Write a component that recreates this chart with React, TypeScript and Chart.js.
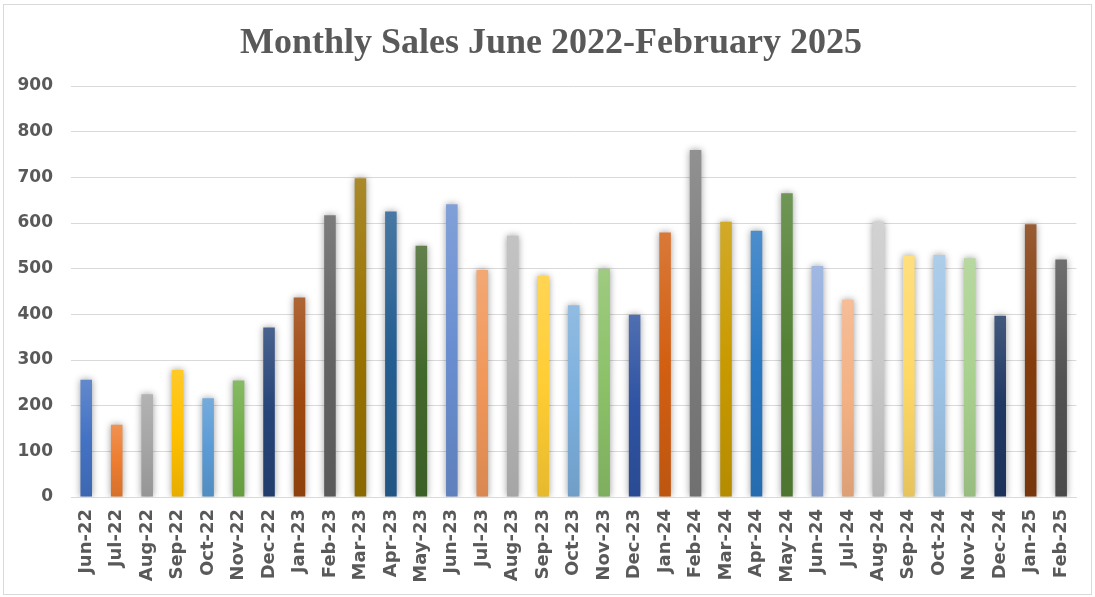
import React, { useEffect, useRef } from "react";
import { Chart, registerables } from "chart.js";

Chart.register(...registerables);

const titleText = "Monthly Sales June 2022-February 2025";

const months = [
  "Jun-22", "Jul-22", "Aug-22", "Sep-22", "Oct-22", "Nov-22", "Dec-22",
  "Jan-23", "Feb-23", "Mar-23", "Apr-23", "May-23", "Jun-23", "Jul-23",
  "Aug-23", "Sep-23", "Oct-23", "Nov-23", "Dec-23", "Jan-24", "Feb-24",
  "Mar-24", "Apr-24", "May-24", "Jun-24", "Jul-24", "Aug-24", "Sep-24",
  "Oct-24", "Nov-24", "Dec-24", "Jan-25", "Feb-25",
];

const sales = [
  257, 158, 225, 278, 216, 255, 371,
  437, 617, 698, 625, 550, 641, 497,
  572, 484, 420, 500, 399, 579, 760,
  603, 583, 665, 506, 432, 603, 529,
  530, 523, 397, 597, 520,
];

const barColors = [
  "#4472C4", "#ED7D31", "#A5A5A5", "#FFC000", "#5B9BD5", "#70AD47",
  "#264478", "#9E480E", "#636363", "#997300", "#255E91", "#43682B",
  "#698ED0", "#F1975A", "#B7B7B7", "#FFCD33", "#7CAFDD", "#8CC168",
  "#2F53A3", "#D25F12", "#7C7C7C", "#C99A00", "#2A78C2", "#548235",
  "#8FAADC", "#F4B183", "#C9C9C9", "#FFD966", "#9DC3E6", "#A9D18E",
  "#1F3864", "#843C0C", "#525252",
];

const yTicks = { min: 0, max: 900, step: 100 };

function mix(hex: string, target: number, amt: number): string {
  const n = parseInt(hex.slice(1), 16);
  const r = (n >> 16) & 255, g = (n >> 8) & 255, b = n & 255;
  const f = (c: number) => Math.round(c + (target - c) * amt);
  return `rgb(${f(r)},${f(g)},${f(b)})`;
}

export default function App() {
  const ref = useRef<HTMLCanvasElement | null>(null);

  useEffect(() => {
    document.body.style.margin = "0";
    const canvas = ref.current!;
    const textColor = "#595959";

    const framePlugin = {
      id: "frame",
      beforeDraw(chart: any) {
        const c = chart.ctx;
        c.save();
        c.fillStyle = "#ffffff";
        c.fillRect(0, 0, chart.width, chart.height);
        c.strokeStyle = "#d9d9d9";
        c.lineWidth = 1;
        c.strokeRect(3.5, 4.5, 1088, 590);
        c.restore();
      },
      afterDraw(chart: any) {
        const c = chart.ctx;
        c.save();
        c.fillStyle = textColor;
        c.font = "bold 36px 'Liberation Serif'";
        c.textAlign = "center";
        c.textBaseline = "alphabetic";
        c.fillText(titleText, 551, 53);
        c.restore();
      },
    };

    const shadowPlugin = {
      id: "barShadow",
      beforeDatasetsDraw(chart: any) {
        const c = chart.ctx;
        c.save();
        c.shadowColor = "rgba(0,0,0,0.4)";
        c.shadowBlur = 7;
        c.shadowOffsetX = 0;
        c.shadowOffsetY = 0;
      },
      afterDatasetsDraw(chart: any) {
        chart.ctx.restore();
      },
    };

    const chart = new Chart(canvas, {
      type: "bar",
      data: {
        labels: months,
        datasets: [
          {
            label: "Sales",
            data: sales,
            backgroundColor: (ctx: any) => {
              const chart = ctx.chart;
              const base = barColors[ctx.dataIndex % barColors.length];
              const ys = chart.scales && chart.scales.y;
              if (!ys || ctx.raw == null) return base;
              const top = ys.getPixelForValue(ctx.raw);
              const bottom = ys.getPixelForValue(0);
              if (!isFinite(top) || !isFinite(bottom) || top === bottom) return base;
              const g = chart.ctx.createLinearGradient(0, top, 0, bottom);
              g.addColorStop(0, mix(base, 255, 0.16));
              g.addColorStop(0.5, base);
              g.addColorStop(1, mix(base, 0, 0.1));
              return g;
            },
            borderWidth: 0,
            barPercentage: 0.76,
            categoryPercentage: 0.5,
          },
        ],
      },
      options: {
        responsive: false,
        animation: false,
        devicePixelRatio: 1,
        layout: { padding: { top: 86, right: 17, bottom: 0, left: 0 } },
        plugins: {
          legend: { display: false },
          title: { display: false },
          tooltip: { enabled: false },
        },
        scales: {
          x: {
            afterFit(scale: any) {
              scale.height = 100;
            },
            grid: { display: false, drawTicks: false },
            border: { display: true, color: "#d9d9d9", width: 1 },
            ticks: {
              color: textColor,
              font: { family: "'DejaVu Sans'", weight: "bold", size: 18 },
              minRotation: 90,
              maxRotation: 90,
              autoSkip: false,
              padding: 12,
            },
          },
          y: {
            min: yTicks.min,
            max: yTicks.max,
            afterFit(scale: any) {
              scale.width = 71;
            },
            grid: { color: "#d9d9d9", lineWidth: 1, drawTicks: false },
            border: { display: false },
            ticks: {
              stepSize: yTicks.step,
              color: textColor,
              font: { family: "'DejaVu Sans'", weight: "bold", size: 17 },
              padding: 18,
            },
          },
        },
      },
      plugins: [framePlugin, shadowPlugin],
    } as any);

    return () => chart.destroy();
  }, []);

  return (
    <div style={{ width: 1095, height: 597 }}>
      <canvas ref={ref} width={1095} height={597} style={{ display: "block" }} />
    </div>
  );
}
